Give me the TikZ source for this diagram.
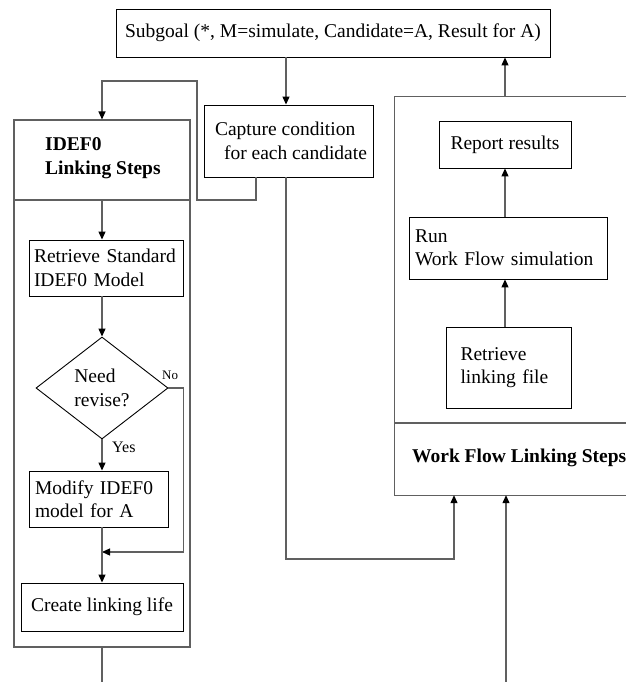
\documentclass[tikz,border=0pt]{standalone}
\usepackage{fontspec}
\setmainfont{Liberation Serif}
\usetikzlibrary{arrows.meta,shapes.geometric}
\hyphenpenalty=10000
\exhyphenpenalty=10000
\begin{document}
\begin{tikzpicture}[x=1pt,y=-1pt,
  every node/.style={font=\fontsize{19.5}{23.5}\selectfont},
  box/.style={draw=black, line width=0.9pt, inner sep=0pt, anchor=center},
  frame/.style={draw=gray!75!black, line width=1.1pt},
  conn/.style={draw=gray!75!black, line width=1.2pt},
  arr/.style={conn, -{Triangle[length=8pt,width=7pt,color=black]}},
  hdr/.style={font=\fontsize{19.5}{23.5}\selectfont\bfseries, align=left, inner sep=0pt, anchor=west},
  lbl/.style={inner sep=0pt}]
\useasboundingbox (0,0) rectangle (626,682);

% top subgoal
\node[box, minimum width=434pt, minimum height=48pt] (sub) at (333,33)
  {Subgoal (*, M=simulate, Candidate=A, Result for A)};
% capture
\node[box, minimum width=169pt, minimum height=72pt, align=left] (cap) at (288.5,141)
  {\hspace*{5pt}Capture condition\\\hspace*{14pt}for each candidate};

% IDEF0 container
\node[frame, minimum width=176pt, minimum height=527pt, inner sep=0pt] (idefbox) at (102,383.5) {};
\coordinate (idefdiv) at (102,200);
\draw[frame] (idefbox.west |- idefdiv) -- (idefbox.east |- idefdiv);
\node[hdr] (idefhdr) at (45,158) {IDEF0\\Linking Steps};

\node[box, minimum width=154pt, minimum height=56pt, text width=144pt, align=left] (ret) at (106,268)
  {Retrieve Standard\\IDEF0 Model};
\node[box, diamond, minimum width=132pt, minimum height=102pt, align=left] (dia) at (102,388)
  {Need\\revise?};
\node[box, minimum width=139pt, minimum height=56pt, text width=127pt, align=left] (mod) at (98.5,499)
  {Modify IDEF0\\model for A};
\node[box, minimum width=162pt, minimum height=48pt] (cre) at (102,607)
  {Create linking life};
\node[lbl, font=\fontsize{13}{15}\selectfont, anchor=south west] (no) at (162,380) {No};
\node[lbl, font=\fontsize{16}{18}\selectfont, anchor=west] (yes) at (112,447) {Yes};
\coordinate (merge) at (102,552);
\coordinate (idefout) at (102,682);

% Work Flow container (right side cut by the page edge)
\node[minimum width=231pt, minimum height=398pt, inner sep=0pt] (wfbox) at (510.5,296) {};
\draw[frame] (wfbox.north east) -- (wfbox.north west) -- (wfbox.south west) -- (wfbox.south east);
\coordinate (wfdiv) at (395,423);
\draw[frame] (wfdiv) -- (wfbox.east |- wfdiv);
\node[hdr] (wfhdr) at (412,458) {Work Flow Linking Steps};

\node[box, minimum width=132pt, minimum height=47pt] (rep) at (505,144.5) {Report results};
\node[box, minimum width=198pt, minimum height=62pt, text width=186pt, align=left] (run) at (508,248)
  {Run\\Work Flow simulation};
\node[box, minimum width=125pt, minimum height=81pt, text width=96pt, align=left] (rlf) at (508.5,367.5)
  {Retrieve\\linking file};
\coordinate (wfin) at (506,682);

% connectors
\draw[arr] (sub.south -| 286,0) -- (cap.north -| 286,0);
\draw[arr] (cap.south -| 256,0) |- (197,200) |- (idefbox.north |- 0,81) -- (idefbox.north);
\draw[arr] (idefdiv) -- (idefdiv |- ret.north);
\draw[arr] (ret.south -| dia.north) -- (dia.north);
\draw[arr] (dia.south) -- (dia.south |- mod.north);
\draw[arr] (dia.east) -- ++(15,0) |- (merge);
\draw[arr] (cre.north |- mod.south) -- (cre.north);
\draw[conn] (idefbox.south) -- (idefout);

\draw[arr] (cap.south -| 286,0) |- (454,559) -- (454,0 |- wfbox.south);
\draw[arr] (wfin) -- (wfin |- wfbox.south);
\draw[arr] (rlf.north -| 505,0) -- (run.south -| 505,0);
\draw[arr] (run.north -| 505,0) -- (rep.south -| 505,0);
\draw[arr] (wfbox.north -| 505,0) -- (sub.south -| 505,0);
\end{tikzpicture}
\end{document}
